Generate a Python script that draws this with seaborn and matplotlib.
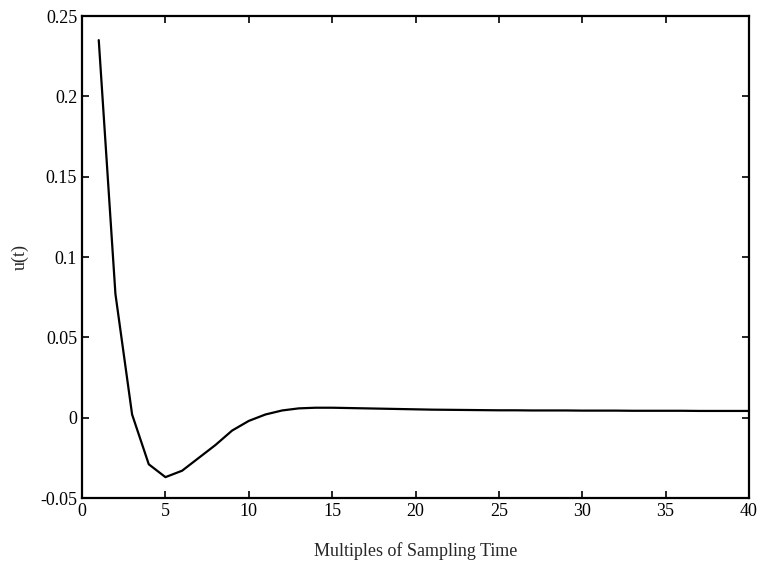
import matplotlib
matplotlib.use('Agg')
import matplotlib.pyplot as plt
import seaborn as sns
import pandas as pd

# samples
steps = list(range(1, 41))
u_vals = [0.235, 0.077, 0.002, -0.029, -0.037, -0.033, -0.025, -0.017, -0.008, -0.002,
          0.002, 0.0045, 0.0058, 0.0062, 0.0062, 0.006, 0.0058, 0.0056, 0.0054, 0.0052,
          0.005, 0.0049, 0.0048, 0.0047, 0.0046, 0.0046, 0.0045, 0.0045, 0.0045, 0.0044,
          0.0044, 0.0044, 0.0043, 0.0043, 0.0043, 0.0043, 0.0042, 0.0042, 0.0042, 0.0042]
x_ticks = [0, 5, 10, 15, 20, 25, 30, 35, 40]
y_ticks = [-0.05, 0, 0.05, 0.1, 0.15, 0.2, 0.25]
y_tick_labels = ['-0.05', '0', '0.05', '0.1', '0.15', '0.2', '0.25']

sns.set_style('ticks')
plt.rcParams['font.family'] = ['Liberation Serif', 'DejaVu Serif']

df = pd.DataFrame({'step': steps, 'u': u_vals})

fig = plt.figure(figsize=(7.6, 5.68), dpi=100)
ax = fig.add_axes([0.108, 0.1232, 0.8775, 0.8486])
sns.lineplot(data=df, x='step', y='u', color='black', linewidth=1.6, ax=ax)

ax.set_xlim(0, 40)
ax.set_ylim(-0.05, 0.25)
ax.set_xticks(x_ticks)
ax.set_xticklabels([str(t) for t in x_ticks])
ax.set_yticks(y_ticks)
ax.set_yticklabels(y_tick_labels)
ax.tick_params(direction='in', top=True, right=True, length=5, width=1.2,
               labelsize=13, colors='black')
for sp in ax.spines.values():
    sp.set_visible(True)
    sp.set_linewidth(1.6)
    sp.set_color('black')

ax.set_xlabel('Multiples of Sampling Time', fontsize=13, labelpad=16)
ax.set_ylabel('u(t)', fontsize=13, labelpad=8)

fig.savefig('out.png', dpi=100)
plt.close()
